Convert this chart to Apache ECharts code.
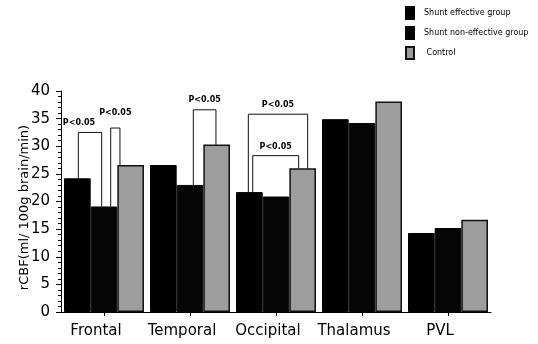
<!DOCTYPE html>
<html>
<head>
<meta charset="utf-8">
<script src="https://cdn.jsdelivr.net/npm/echarts@6/dist/echarts.min.js"></script>
<style>
  html, body { margin: 0; padding: 0; background: #fff; }
  #chart { width: 538px; height: 344px; }
</style>
</head>
<body>
<div id="chart"></div>
<script>
// Regional cerebral blood flow by brain region and group
const regions = ['Frontal', 'Temporal', 'Occipital', 'Thalamus', 'PVL'];
const groupNames = ['Shunt effective group', 'Shunt non-effective group', 'Control'];
const effective = [24.2, 26.6, 21.7, 34.9, 14.3];
const nonEffective = [19.1, 23.0, 20.9, 34.2, 15.2];
const control = [26.6, 30.3, 26.0, 38.1, 16.7];
const yMin = 0, yMax = 40, yStep = 5;

// Significance brackets: region index, left group, right group, bracket height
const bracketRegion = [0, 0, 1, 2, 2];
const bracketFrom = [0, 1, 1, 0, 0];
const bracketTo = [1, 2, 2, 2, 2];
const bracketTop = [32.5, 33.3, 36.6, 35.8, 28.3];
const bracketLabel = 'P<0.05';

// Drawing tweaks for the brackets (pixels)
const legShiftL = [1, 6.7, 3.3, -1, 3.4];
const legShiftR = [-2.3, -10.7, -0.7, 5, -4];
const textShiftX = [-11, 0, 0, 0, 0];
const textLift = [10, 15, 10, 9, 9];

const FONT = 'DejaVu Sans';
const CAT_GAP = 0.07;
const groupValues = [effective, nonEffective, control];

const chart = echarts.init(document.getElementById('chart'), null, { renderer: 'canvas' });

const barStyles = [
  { color: '#000000', borderColor: '#000000', borderWidth: 1 },
  { color: '#050505', borderColor: '#050505', borderWidth: 1 },
  { color: '#9d9d9d', borderColor: '#111111', borderWidth: 1.5 }
];

const barSeries = groupNames.map((name, s) => ({
  name: name,
  type: 'bar',
  data: groupValues[s],
  barGap: '0%',
  barCategoryGap: (CAT_GAP * 100) + '%',
  itemStyle: barStyles[s],
  emphasis: { disabled: true },
  animation: false
}));

const bracketSeries = {
  type: 'custom',
  name: 'brackets',
  animation: false,
  silent: true,
  clip: false,
  data: bracketRegion.map((r, i) => [r, bracketTop[i]]),
  encode: { x: 0, y: 1 },
  renderItem: function (params, api) {
    const i = params.dataIndex;
    const cat = api.value(0);
    const c = api.coord([cat, 0]);
    const band = api.size([1, 0])[0];
    const bw = band * (1 - CAT_GAP) / 3;
    const barX = s => c[0] + (s - 1) * bw;
    const lx = barX(bracketFrom[i]) + legShiftL[i];
    const rx = barX(bracketTo[i]) + legShiftR[i];
    const ly = api.coord([cat, groupValues[bracketFrom[i]][cat]])[1];
    const ry = api.coord([cat, groupValues[bracketTo[i]][cat]])[1];
    const ty = api.coord([cat, api.value(1)])[1];
    return {
      type: 'group',
      children: [
        {
          type: 'polyline',
          shape: { points: [[lx, ly], [lx, ty], [rx, ty], [rx, ry]] },
          style: { stroke: '#111', lineWidth: 1, fill: 'none' }
        },
        {
          type: 'text',
          x: (lx + rx) / 2 + textShiftX[i],
          y: ty - textLift[i],
          style: {
            text: bracketLabel,
            font: 'bold 8px "' + FONT + '"',
            fill: '#000',
            align: 'center',
            verticalAlign: 'middle'
          }
        }
      ]
    };
  }
};

chart.setOption({
  backgroundColor: '#ffffff',
  animation: false,
  textStyle: { fontFamily: FONT },
  grid: { left: 61, right: 47, top: 91, bottom: 32, containLabel: false },
  legend: {
    data: groupNames,
    orient: 'vertical',
    left: 400,
    top: 1,
    itemWidth: 8,
    itemHeight: 12,
    itemGap: 6,
    icon: 'rect',
    selectedMode: false,
    formatter: name => (name === 'Control' ? ' ' + name : name),
    textStyle: { fontFamily: FONT, fontSize: 8, color: '#000', padding: [0, 0, 0, 5] }
  },
  xAxis: {
    type: 'category',
    data: regions,
    axisLine: { show: true, lineStyle: { color: '#000', width: 1 } },
    axisTick: { show: true, alignWithLabel: true, length: 4, lineStyle: { color: '#000' } },
    axisLabel: {
      interval: 0,
      hideOverlap: false,
      fontFamily: FONT, fontSize: 15, color: '#000', margin: 12,
      padding: [0, 16, 0, 0]
    },
    splitLine: { show: false }
  },
  yAxis: {
    type: 'value',
    min: yMin,
    max: yMax,
    interval: yStep,
    name: 'rCBF(ml/ 100g brain/min)',
    nameLocation: 'middle',
    nameGap: 30,
    nameRotate: 90,
    nameMoveOverlap: false,
    nameTextStyle: { fontFamily: FONT, fontSize: 13, color: '#000', padding: [0, 12, 0, 0] },
    axisLine: { show: true, lineStyle: { color: '#000', width: 1 } },
    axisTick: { show: true, length: 5, lineStyle: { color: '#000' } },
    minorTick: { show: true, splitNumber: 5, length: 3, lineStyle: { color: '#000' } },
    axisLabel: { fontFamily: FONT, fontSize: 15, color: '#000', margin: 11 },
    splitLine: { show: false }
  },
  series: barSeries.concat([bracketSeries])
});
</script>
</body>
</html>
